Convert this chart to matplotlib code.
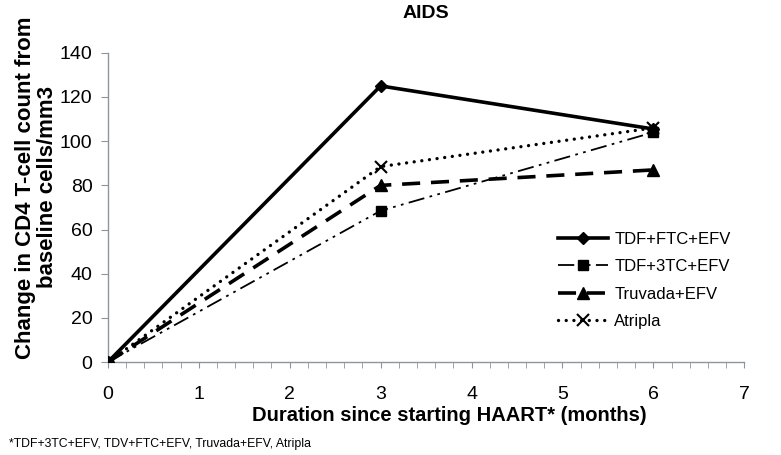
import matplotlib

matplotlib.use("Agg")

import matplotlib.pyplot as plt
from matplotlib.ticker import MultipleLocator

plt.rcParams["font.family"] = ["Liberation Sans", "DejaVu Sans"]

months = [0, 3, 6]

tdf_ftc_efv = [0, 125, 105.5]
tdf_3tc_efv = [0, 68.5, 104]
truvada_efv = [0, 80, 87]
atripla     = [0, 88.5, 106]

x_ticks = [0, 1, 2, 3, 4, 5, 6, 7]
y_ticks = [0, 20, 40, 60, 80, 100, 120, 140]

AXIS_GREY = "#8c96a0"

figure = plt.figure(figsize=(7.81, 4.55), dpi=100)
axis   = figure.add_axes([0.138, 0.204, 0.815, 0.68])

axis.plot(months, tdf_ftc_efv, color="black", linewidth=2.6, linestyle="-",
          marker="D", markersize=6, label="TDF+FTC+EFV", zorder=5)
axis.plot(months, tdf_3tc_efv, color="black", linewidth=1.3, linestyle=(0, (9, 3, 1.5, 3, 1.5, 3)),
          marker="s", markersize=7, label="TDF+3TC+EFV", zorder=4)
axis.plot(months, truvada_efv, color="black", linewidth=2.6, linestyle=(0, (5, 3)),
          marker="^", markersize=9, label="Truvada+EFV", zorder=3)
axis.plot(months, atripla, color="black", linewidth=2.4, linestyle=(0, (0.01, 2.3)),
          dash_capstyle="round", marker="x", markersize=9, markeredgewidth=1.5,
          label="Atripla", zorder=2)

axis.set_xlim(0, 7)
axis.set_ylim(0, 140)
axis.set_xticks(x_ticks)
axis.set_yticks(y_ticks)
axis.xaxis.set_minor_locator(MultipleLocator(0.2))

for side in ("top", "right"):
    axis.spines[side].set_visible(False)
for side in ("left", "bottom"):
    axis.spines[side].set_color(AXIS_GREY)
    axis.spines[side].set_linewidth(1.0)

axis.tick_params(axis="both", which="both", colors=AXIS_GREY, labelcolor="black", labelsize=14)
axis.tick_params(axis="x", which="both", direction="out", length=4, pad=13)
axis.tick_params(axis="y", which="major", direction="out", length=5, pad=6)

axis.set_xlabel("Duration since starting HAART* (months)", fontsize=14.5, fontweight="bold")
axis.xaxis.set_label_coords(0.536, -0.143)
axis.set_ylabel("Change in CD4 T-cell count from\nbaseline cells/mm3", fontsize=16,
                fontweight="bold", linespacing=1.1)
axis.yaxis.set_label_coords(-0.078, 0.565)
axis.set_title("AIDS", fontsize=14, fontweight="bold", pad=25)

axis.legend(loc="upper left", bbox_to_anchor=(0.683, 0.47), frameon=False, fontsize=12,
            handlelength=3.0, labelspacing=0.75, handletextpad=0.4)

figure.text(0.012, 0.017, "*TDF+3TC+EFV, TDV+FTC+EFV, Truvada+EFV, Atripla", fontsize=8.8)

figure.savefig("out.png", dpi=100)
